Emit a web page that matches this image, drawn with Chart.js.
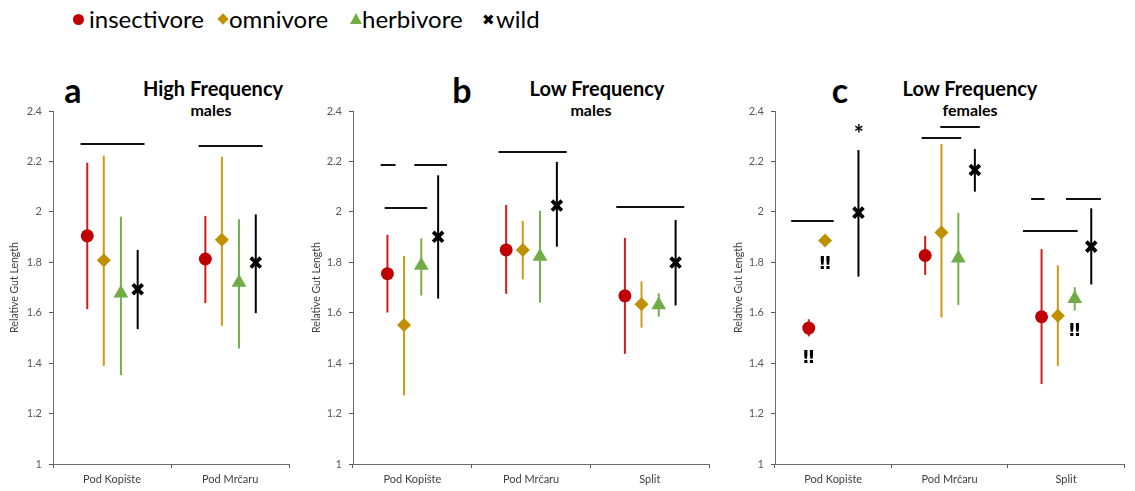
<!DOCTYPE html>
<html>
<head>
<meta charset="utf-8">
<script src="https://cdn.jsdelivr.net/npm/chart.js@4.4.1/dist/chart.umd.min.js"></script>
<style>
html,body{margin:0;padding:0;background:#fff;width:1135px;height:491px;overflow:hidden;font-family:Lato,"Open Sans",sans-serif;}
.panel{position:absolute;top:0;height:491px;}
.lg{position:absolute;top:4px;font-size:24px;color:#000;line-height:30px;white-space:nowrap;}
.mk{position:absolute;}
.t{position:absolute;font-weight:bold;color:#000;white-space:nowrap;transform:translateX(-50%);}
.letter{font-size:34px;top:69px;}
.title{font-size:20px;top:76px;}
.sub{font-size:16px;top:100px;}
</style>
</head>
<body>
<!-- legend -->
<div class="mk" style="left:73px;top:14px;width:11px;height:11px;border-radius:50%;background:#C00000"></div>
<div class="lg" style="left:89px">insectivore</div>
<div class="mk" style="left:219px;top:15px;width:8px;height:8px;background:#BF9000;transform:rotate(45deg)"></div>
<div class="lg" style="left:229px">omnivore</div>
<div class="mk" style="left:350px;top:13px;width:0;height:0;border-left:6px solid transparent;border-right:6px solid transparent;border-bottom:11px solid #70AD47"></div>
<div class="lg" style="left:362px">herbivore</div>
<div class="mk" style="left:482px;top:10px;font-size:15px;font-weight:bold;line-height:20px;font-family:'DejaVu Sans'">✖</div>
<div class="lg" style="left:496px">wild</div>

<!-- panel titles -->
<div class="t letter" style="left:73px">a</div>
<div class="t title" style="left:213px">High Frequency</div>
<div class="t sub" style="left:211px">males</div>
<div class="t letter" style="left:462px">b</div>
<div class="t title" style="left:597px">Low Frequency</div>
<div class="t sub" style="left:591px">males</div>
<div class="t letter" style="left:840px">c</div>
<div class="t title" style="left:970px">Low Frequency</div>
<div class="t sub" style="left:970px">females</div>

<div class="panel" style="left:0;width:300px"><canvas id="ca" width="300" height="491"></canvas></div>
<div class="panel" style="left:300px;width:420px"><canvas id="cb" width="420" height="491"></canvas></div>
<div class="panel" style="left:720px;width:415px"><canvas id="cc" width="415" height="491"></canvas></div>

<script>
// ---------------- DATA ----------------
const seriesNames = ['insectivore', 'omnivore', 'herbivore', 'wild'];
const categoriesA = ['Pod Kopište', 'Pod Mrčaru'];
const categoriesBC = ['Pod Kopište', 'Pod Mrčaru', 'Split'];
const yTickValues = [1, 1.2, 1.4, 1.6, 1.8, 2, 2.2, 2.4];
const yTickLabels = ['1', '1.2', '1.4', '1.6', '1.8', '2', '2.2', '2.4'];

// a: High Frequency, males
const aInsectivore = [1.905, 1.813];
const aInsectivoreCI = [[1.614, 2.195], [1.638, 1.984]];
const aOmnivore = [1.808, 1.889];
const aOmnivoreCI = [[1.389, 2.223], [1.548, 2.219]];
const aHerbivore = [1.677, 1.720];
const aHerbivoreCI = [[1.352, 1.981], [1.458, 1.971]];
const aWild = [1.693, 1.799];
const aWildCI = [[1.535, 1.849], [1.598, 1.990]];
const aSigBars = [[0.233, 0.775, 2.268], [1.233, 1.775, 2.260]];
const aNotes = [];

// b: Low Frequency, males
const bInsectivore = [1.755, 1.849, 1.667];
const bInsectivoreCI = [[1.601, 1.909], [1.675, 2.027], [1.437, 1.897]];
const bOmnivore = [1.551, 1.849, 1.634];
const bOmnivoreCI = [[1.272, 1.825], [1.732, 1.964], [1.541, 1.724]];
const bHerbivore = [1.787, 1.823, 1.631];
const bHerbivoreCI = [[1.668, 1.895], [1.640, 2.004], [1.584, 1.677]];
const bWild = [1.901, 2.025, 1.799];
const bWildCI = [[1.656, 2.145], [1.862, 2.198], [1.629, 1.968]];
const bSigBars = [[0.233, 0.358, 2.185], [0.517, 0.792, 2.185], [0.267, 0.625, 2.014], [1.225, 1.800, 2.239], [2.217, 2.790, 2.020]];
const bNotes = [];

// c: Low Frequency, females
const cInsectivore = [1.539, 1.827, 1.584];
const cInsectivoreCI = [[1.506, 1.574], [1.750, 1.905], [1.317, 1.852]];
const cOmnivore = [1.886, 1.918, 1.588];
const cOmnivoreCI = [null, [1.581, 2.269], [1.389, 1.788]];
const cHerbivore = [null, 1.816, 1.655];
const cHerbivoreCI = [null, [1.631, 1.996], [1.609, 1.701]];
const cWild = [1.997, 2.166, 1.862];
const cWildCI = [[1.743, 2.245], [2.080, 2.249], [1.712, 2.014]];
const cSigBars = [[0.139, 0.504, 1.963], [1.260, 1.600, 2.292], [1.420, 1.760, 2.337], [2.200, 2.315, 2.050], [2.500, 2.800, 2.050], [2.130, 2.600, 1.924]];
const cNotes = [['*', 0.72, 2.32], ['‼', 0.29, 1.42], ['‼', 0.43, 1.79], ['‼', 2.575, 1.525]];

// ---------------- STYLE ----------------
const seriesOffsets = [-0.21, -0.07, 0.075, 0.217];
const markerColors = ['#C00000', '#BF9000', '#70AD47', '#000000'];
const lineColors = ['#D41A1A', '#CC9A14', '#76B04C', '#000000'];
const pointStyles = ['circle', 'rectRot', 'triangle', 'crossRot'];
const pointRadii = [6.5, 7, 8.5, 7];

const errorBarPlugin = {
  id: 'errorBars',
  beforeDatasetsDraw(chart) {
    const ctx = chart.ctx, y = chart.scales.y;
    chart.data.datasets.forEach((ds, i) => {
      const meta = chart.getDatasetMeta(i);
      ctx.save();
      ctx.strokeStyle = ds.errColor;
      ctx.lineWidth = 2;
      meta.data.forEach((pt, j) => {
        const d = ds.data[j];
        if (!d || d.lo == null) return;
        ctx.beginPath();
        ctx.moveTo(pt.x, y.getPixelForValue(d.lo));
        ctx.lineTo(pt.x, y.getPixelForValue(d.hi));
        ctx.stroke();
      });
      ctx.restore();
    });
  },
  afterDatasetsDraw(chart, args, opts) {
    const ctx = chart.ctx, y = chart.scales.y, xv = chart.scales.xv;
    ctx.save();
    ctx.strokeStyle = '#111';
    ctx.lineWidth = 2;
    (opts.bars || []).forEach(b => {
      const py = Math.round(y.getPixelForValue(b[2]));
      ctx.beginPath();
      ctx.moveTo(xv.getPixelForValue(b[0]), py);
      ctx.lineTo(xv.getPixelForValue(b[1]), py);
      ctx.stroke();
    });
    ctx.fillStyle = '#000';
    ctx.textAlign = 'center';
    ctx.textBaseline = 'middle';
    (opts.notes || []).forEach(n => {
      ctx.font = n[0] === '*' ? 'bold 24px Lato, sans-serif' : 'bold 18px "DejaVu Sans", sans-serif';
      ctx.fillText(n[0], xv.getPixelForValue(n[1]), y.getPixelForValue(n[2]) + (n[0] === '*' ? 4 : 0));
    });
    ctx.restore();
  }
};

function buildPanel(id, cats, means, cis, bars, notes, yWidth, padRight, titlePad) {
  const datasets = seriesNames.map((name, i) => {
    const data = [];
    cats.forEach((c, j) => {
      const v = means[i][j];
      if (v == null) return;
      const ci = cis[i][j];
      data.push({ x: j + 0.5 + seriesOffsets[i], y: v, lo: ci ? ci[0] : null, hi: ci ? ci[1] : null });
    });
    return {
      label: name, data, xAxisID: 'xv', yAxisID: 'y',
      pointStyle: pointStyles[i], pointRadius: pointRadii[i], pointHoverRadius: pointRadii[i],
      backgroundColor: markerColors[i], borderColor: markerColors[i],
      borderWidth: i === 3 ? 3.8 : 0, errColor: lineColors[i], showLine: false
    };
  });
  return new Chart(document.getElementById(id), {
    type: 'scatter',
    data: { labels: cats, datasets },
    plugins: [errorBarPlugin],
    options: {
      responsive: false, animation: false,
      layout: { padding: { left: 0, right: padRight, top: 111, bottom: 0 } },
      plugins: { legend: { display: false }, tooltip: { enabled: false }, errorBars: { bars, notes } },
      scales: {
        x: {
          type: 'category', labels: cats, offset: true, position: 'bottom',
          grid: { offset: true, drawOnChartArea: false, drawTicks: true, tickLength: 4, color: '#595959' },
          border: { display: true, color: '#6b6b6b', width: 1 },
          ticks: { color: '#404040', font: { family: 'Lato, "Open Sans", sans-serif', size: 11 }, padding: 5, maxRotation: 0 },
          afterFit: s => { s.height = 27; }
        },
        xv: { type: 'linear', display: false, min: 0, max: cats.length },
        y: {
          type: 'linear', min: 1, max: 2.4,
          afterBuildTicks: s => { s.ticks = yTickValues.map(v => ({ value: v })); },
          grid: { drawOnChartArea: false, drawTicks: true, tickLength: 4, color: '#595959' },
          border: { display: true, color: '#6b6b6b', width: 1 },
          ticks: {
            color: '#595959', font: { family: 'Lato, "Open Sans", sans-serif', size: 11 }, padding: 7,
            callback: v => { const k = yTickValues.findIndex(t => Math.abs(t - v) < 1e-6); return k >= 0 ? yTickLabels[k] : ''; }
          },
          title: { display: true, text: 'Relative Gut Length', color: '#404040', font: { family: 'Lato, "Open Sans", sans-serif', size: 10.5 }, padding: { top: titlePad, bottom: 0 } },
          afterFit: s => { s.width = yWidth; }
        }
      }
    }
  });
}

buildPanel('ca', categoriesA,
  [aInsectivore, aOmnivore, aHerbivore, aWild],
  [aInsectivoreCI, aOmnivoreCI, aHerbivoreCI, aWildCI], aSigBars, aNotes, 53, 7, 8.7);
buildPanel('cb', categoriesBC,
  [bInsectivore, bOmnivore, bHerbivore, bWild],
  [bInsectivoreCI, bOmnivoreCI, bHerbivoreCI, bWildCI], bSigBars, bNotes, 53, 5, 10.7);
buildPanel('cc', categoriesBC,
  [cInsectivore, cOmnivore, cHerbivore, cWild],
  [cInsectivoreCI, cOmnivoreCI, cHerbivoreCI, cWildCI], cSigBars, cNotes, 55, 0, 12.7);
</script>
</body>
</html>
